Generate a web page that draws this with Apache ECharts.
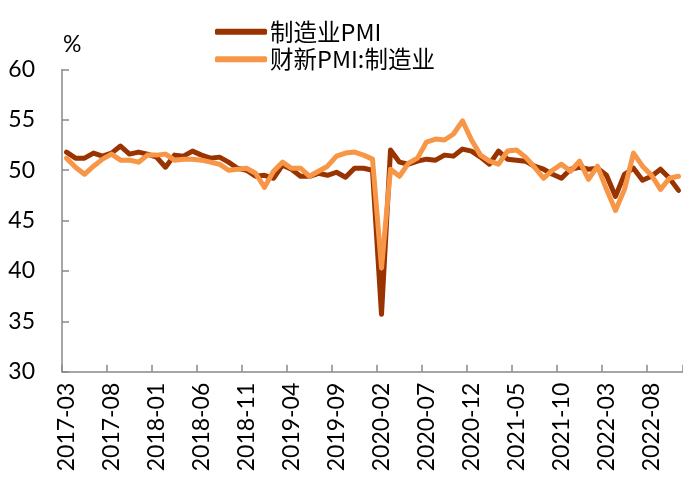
<!DOCTYPE html>
<html>
<head>
<meta charset="utf-8">
<script src="https://cdn.jsdelivr.net/npm/echarts@6/dist/echarts.min.js"></script>
<style>
html,body{margin:0;padding:0;background:#fff;}
#c{width:683px;height:478px;}
</style>
</head>
<body>
<div id="c"></div>
<script>
// 2017-03 .. 2022-11
const months = [];
(function(){
  let y = 2017, m = 3;
  for (let i = 0; i < 69; i++) {
    months.push(y + '-' + (m < 10 ? '0' + m : '' + m));
    m++; if (m > 12) { m = 1; y++; }
  }
})();

const officialPMI = [
  51.8, 51.2, 51.2, 51.7, 51.4, 51.7, 52.4, 51.6, 51.8, 51.6,
  51.3, 50.3, 51.5, 51.4, 51.9, 51.5, 51.2, 51.3, 50.8, 50.2, 50.0, 49.4,
  49.5, 49.2, 50.5, 50.1, 49.4, 49.4, 49.7, 49.5, 49.8, 49.3, 50.2, 50.2,
  50.0, 35.7, 52.0, 50.8, 50.6, 50.9, 51.1, 51.0, 51.5, 51.4, 52.1, 51.9,
  51.3, 50.6, 51.9, 51.1, 51.0, 50.9, 50.4, 50.1, 49.6, 49.2, 50.1, 50.3,
  50.1, 50.2, 49.5, 47.4, 49.6, 50.2, 49.0, 49.4, 50.1, 49.2, 48.0
];
const caixinPMI = [
  51.2, 50.3, 49.6, 50.4, 51.1, 51.6, 51.0, 51.0, 50.8, 51.5,
  51.5, 51.6, 51.0, 51.1, 51.1, 51.0, 50.8, 50.6, 50.0, 50.1, 50.2, 49.7,
  48.3, 49.9, 50.8, 50.2, 50.2, 49.4, 49.9, 50.4, 51.4, 51.7, 51.8, 51.5,
  51.1, 40.3, 50.1, 49.4, 50.7, 51.2, 52.8, 53.1, 53.0, 53.6, 54.9, 53.0,
  51.5, 50.9, 50.6, 51.9, 52.0, 51.3, 50.3, 49.2, 50.0, 50.6, 49.9, 50.9,
  49.1, 50.4, 48.1, 46.0, 48.1, 51.7, 50.4, 49.5, 48.1, 49.2, 49.4
];
const seriesNames = ['制造业PMI', '财新PMI:制造业'];
const yTicks = [30, 35, 40, 45, 50, 55, 60];

const numFont = 'Lato';
const chart = echarts.init(document.getElementById('c'), null, {renderer: 'canvas'});
chart.setOption({
  animation: false,
  backgroundColor: '#ffffff',
  grid: {left: 62, right: 0, top: 69.5, bottom: 106.3, containLabel: false, outerBoundsMode: 'none'},
  legend: {
    orient: 'vertical', left: 210, top: 15,
    itemWidth: 52, itemHeight: 6, itemGap: 4, icon: 'roundRect',
    textStyle: {fontFamily: 'Noto Sans CJK SC', fontSize: 23.5, color: '#000', lineHeight: 23, padding: [0,0,0,-2]},
    data: seriesNames
  },
  graphic: [{
    type: 'text', left: 63, top: 33,
    style: {text: '%', font: '23px Lato', fill: '#000'}
  }],
  xAxis: {
    type: 'category', data: months, boundaryGap: true,
    axisLine: {lineStyle: {color: '#898989', width: 1.5}},
    axisTick: {show: true, inside: true, length: 7, interval: 4, lineStyle: {color: '#898989', width: 1.5}},
    axisLabel: {interval: 4, rotate: 90, margin: 11, fontFamily: numFont, fontSize: 23, color: '#000'},
    splitLine: {show: false}
  },
  yAxis: {
    type: 'value', min: 30, max: 60, interval: 5,
    axisLine: {show: true, lineStyle: {color: '#898989', width: 1.5}},
    axisTick: {show: true, inside: true, length: 7, lineStyle: {color: '#898989', width: 1.5}},
    axisLabel: {margin: 27, fontFamily: numFont, fontSize: 23, color: '#000',
      formatter: function(v){ return yTicks.indexOf(v) >= 0 ? String(v) : ''; }},
    splitLine: {show: false}
  },
  series: [
    {name: seriesNames[0], type: 'line', data: officialPMI, symbol: 'none', smooth: false,
     color: '#993300', lineStyle: {width: 5, color: '#993300', join: 'round', cap: 'round'}},
    {name: seriesNames[1], type: 'line', data: caixinPMI, symbol: 'none', smooth: false,
     color: '#F79646', lineStyle: {width: 5, color: '#F79646', join: 'round', cap: 'round'}}
  ]
});
</script>
</body>
</html>
